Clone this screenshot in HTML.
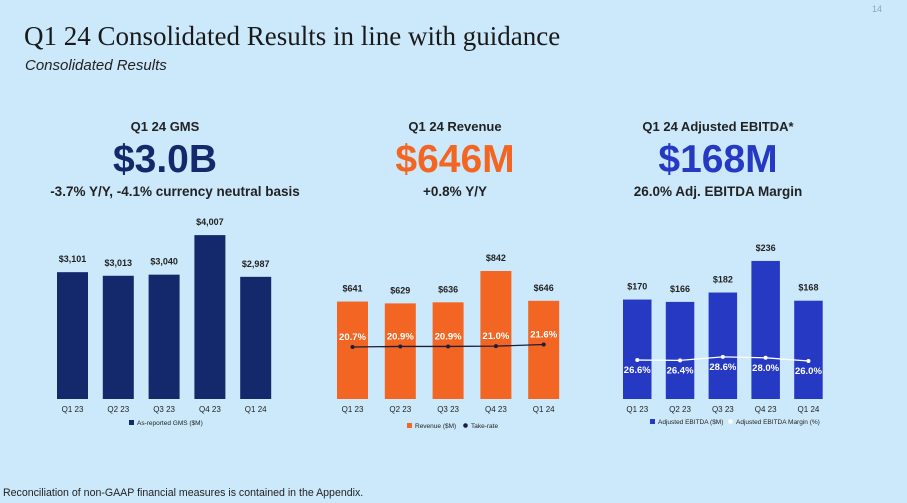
<!DOCTYPE html>
<html><head><meta charset="utf-8"><style>
html,body{margin:0;padding:0;background:#cce9fb;}
svg{display:block;font-family:"Liberation Sans",Arial,sans-serif;}
</style></head><body>
<svg id="s" width="907" height="503" viewBox="0 0 907 503">
<rect width="907" height="503" fill="#cce9fb"/>
<text x="872" y="12" font-size="9" fill="#8aa">14</text>
<text x="24" y="45" font-family="Liberation Serif,serif" font-size="27" fill="#1a1a1a">Q1 24 Consolidated Results in line with guidance</text>
<text x="25" y="70" font-size="15" font-style="italic" fill="#222">Consolidated Results</text>

<g font-weight="bold" text-anchor="middle">
<text x="165" y="131" font-size="13" fill="#222">Q1 24 GMS</text>
<text x="165" y="172" font-size="39" fill="#13296b">$3.0B</text>
<text x="175" y="196" font-size="13.5" fill="#222">-3.7% Y/Y, -4.1% currency neutral basis</text>
<text x="455" y="131" font-size="13" fill="#222">Q1 24 Revenue</text>
<text x="455" y="172" font-size="39" fill="#f26522">$646M</text>
<text x="455" y="196" font-size="13.5" fill="#222">+0.8% Y/Y</text>
<text x="718" y="131" font-size="13" fill="#222">Q1 24 Adjusted EBITDA*</text>
<text x="718" y="172" font-size="39" fill="#2639c2">$168M</text>
<text x="718" y="196" font-size="13.5" fill="#222">26.0% Adj. EBITDA Margin</text>
</g>
<g id="charts"></g>
<text x="3" y="496" font-size="10.6" fill="#222">Reconciliation of non-GAAP financial measures is contained in the Appendix.</text>
</svg>
<script>
const categories=["Q1 23","Q2 23","Q3 23","Q4 23","Q1 24"];
const gmsValues=[3101,3013,3040,4007,2987];
const gmsLabels=["$3,101","$3,013","$3,040","$4,007","$2,987"];
const revValues=[641,629,636,842,646];
const revLabels=["$641","$629","$636","$842","$646"];
const takeRate=[20.7,20.9,20.9,21.0,21.6];
const takeRateLabels=["20.7%","20.9%","20.9%","21.0%","21.6%"];
const ebitdaValues=[170,166,182,236,168];
const ebitdaLabels=["$170","$166","$182","$236","$168"];
const margin=[26.6,26.4,28.6,28.0,26.0];
const marginLabels=["26.6%","26.4%","28.6%","28.0%","26.0%"];

const NS="http://www.w3.org/2000/svg";
const g=document.getElementById("charts");
function mk(tag,attrs,text){const e=document.createElementNS(NS,tag);for(const k in attrs)e.setAttribute(k,attrs[k]);if(text!==undefined)e.textContent=text;g.appendChild(e);return e;}

function barChart(o){
  const base=399;
  const xs=i=>o.x0+i*o.step;
  const ys=v=>base-v*o.scale;
  o.vals.forEach((v,i)=>{
    const r=mk("rect",{x:xs(i),y:ys(v),width:o.bw,height:base-ys(v),fill:o.color});
    
    
    const t=mk("text",{x:xs(i)+o.bw/2,y:ys(v)-10,"text-anchor":"middle","font-size":"9","font-weight":"bold",fill:"#222"},o.labels[i]);
    
    
    const c=mk("text",{x:xs(i)+o.bw/2,y:412,"text-anchor":"middle","font-size":"8",fill:"#222"},categories[i]);
    
    
  });
  if(o.line){
    const ly=v=>o.lineBase-(v-o.lineRef)*o.lineScale;
    const pts=o.line.map((v,i)=>(xs(i)+o.bw/2)+","+ly(v)).join(" ");
    const pl=mk("polyline",{points:pts,fill:"none",stroke:o.lineColor,"stroke-width":"1.3"});
    
    
    o.line.forEach((v,i)=>{
      const d=mk("circle",{cx:xs(i)+o.bw/2,cy:ly(v),r:2,fill:o.lineColor});
      
      
      const t=mk("text",{x:xs(i)+o.bw/2,y:ly(v)+o.lblOff,"text-anchor":"middle","font-size":"9.5","font-weight":"bold",fill:"#fff"},o.lineLabels[i]);
      
      
    });
  }
}
barChart({id:"gms",x0:57,step:45.8,bw:31,scale:0.0409,vals:gmsValues,labels:gmsLabels,color:"#13296b"});
barChart({id:"revenue",x0:337,step:47.8,bw:31,scale:0.152,vals:revValues,labels:revLabels,color:"#f26522",
  line:takeRate,lineLabels:takeRateLabels,lineColor:"#1b1f3b",lineBase:347,lineRef:20.7,lineScale:2.8,lblOff:-7});
barChart({id:"ebitda",x0:623,step:42.8,bw:28.5,scale:0.585,vals:ebitdaValues,labels:ebitdaLabels,color:"#2639c2",
  line:margin,lineLabels:marginLabels,lineColor:"#ffffff",lineBase:361,lineRef:26.0,lineScale:1.6,lblOff:13});

function legend(x,y,items){
  let cx=x;
  items.forEach(it=>{
    const s=it.dot?mk("circle",{cx:cx+2.5,cy:y-2.5,r:2.3,fill:it.color}):mk("rect",{x:cx,y:y-5,width:5,height:5,fill:it.color});
    
    
    const t=mk("text",{x:cx+8,y:y,"font-size":"6.5",fill:"#222"},it.text);
    
    
    cx+=8+it.w;
  });
}
legend(129,425,[{text:"As-reported GMS ($M)",color:"#13296b",w:80}]);
legend(407,428,[{text:"Revenue ($M)",color:"#f26522",w:48},{text:"Take-rate",color:"#1b1f3b",dot:1,w:40}]);
legend(650,424,[{text:"Adjusted EBITDA ($M)",color:"#2639c2",w:70},{text:"Adjusted EBITDA Margin (%)",color:"#fff",dot:1,w:90}]);
</script>
</body></html>
